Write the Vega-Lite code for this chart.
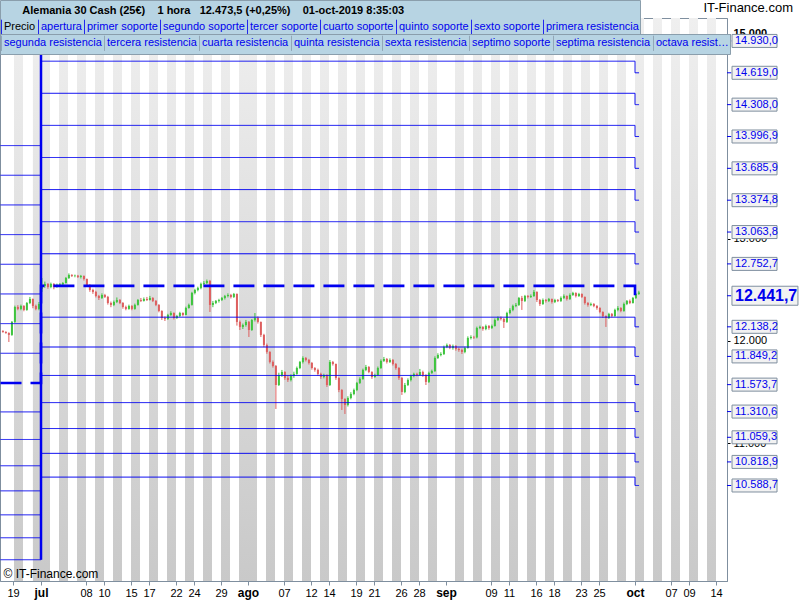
{
"$schema": "https://vega.github.io/schema/vega-lite/v6.json",
"width": 727, "height": 563,
"autosize": "none",
"padding": {"left": 0, "top": 18, "right": 73, "bottom": 19},
"background": "white",
"config": {
  "locale": {"number": {"decimal": ",", "thousands": ".", "grouping": [3], "currency": ["", " €"]}},
  "font": "Liberation Sans",
  "view": {"stroke": "#7f8f9f", "fill": "white"},
  "axis": {"labelOverlap": false}
},
"title": {"text": "IT-Finance.com", "anchor": "end", "frame": "group", "offset": 0, "dy": 15, "dx": 66, "fontSize": 13, "fontWeight": "normal", "color": "#000000", "font": "Liberation Sans"},
"resolve": {"axis": {"x": "independent"}},
"datasets": {
"stripes": [{"d":-3,"e":-2},{"d":-0.9,"e":0},{"d":0,"e":1},{"d":2,"e":3},{"d":4,"e":5},{"d":6,"e":7},{"d":8,"e":9},{"d":10,"e":11},{"d":12,"e":13},{"d":14,"e":15},{"d":16,"e":17},{"d":18,"e":19},{"d":20,"e":21},{"d":22,"e":23},{"d":23,"e":24},{"d":25,"e":26},{"d":27,"e":28},{"d":29,"e":30},{"d":31,"e":32},{"d":33,"e":34},{"d":35,"e":36},{"d":37,"e":38},{"d":39,"e":40},{"d":41,"e":42},{"d":43,"e":44},{"d":46,"e":47},{"d":48,"e":49},{"d":50,"e":51},{"d":52,"e":53},{"d":54,"e":55},{"d":56,"e":57},{"d":58,"e":59},{"d":60,"e":61},{"d":62,"e":63},{"d":64,"e":65},{"d":66,"e":67},{"d":68,"e":69},{"d":70,"e":71},{"d":72,"e":73},{"d":74,"e":75}],
"levels": [
{"name":"apertura","t":-4.5,"v":11590},{"name":"apertura","t":0,"v":12538},{"name":"apertura","t":66,"v":12441.7},{"name":"apertura","t":66.45,"v":12441.7},
{"name":"primer soporte","t":-4.5,"v":11307.3},{"name":"primer soporte","t":0,"v":12232.2},{"name":"primer soporte","t":66,"v":12138.2},{"name":"primer soporte","t":66.45,"v":12138.2},
{"name":"segundo soporte","t":-4.5,"v":11038.1},{"name":"segundo soporte","t":0,"v":11941.0},{"name":"segundo soporte","t":66,"v":11849.2},{"name":"segundo soporte","t":66.45,"v":11849.2},
{"name":"tercer soporte","t":-4.5,"v":10781.4},{"name":"tercer soporte","t":0,"v":11663.3},{"name":"tercer soporte","t":66,"v":11573.7},{"name":"tercer soporte","t":66.45,"v":11573.7},
{"name":"cuarto soporte","t":-4.5,"v":10536.4},{"name":"cuarto soporte","t":0,"v":11398.2},{"name":"cuarto soporte","t":66,"v":11310.6},{"name":"cuarto soporte","t":66.45,"v":11310.6},
{"name":"quinto soporte","t":-4.5,"v":10302.2},{"name":"quinto soporte","t":0,"v":11144.9},{"name":"quinto soporte","t":66,"v":11059.3},{"name":"quinto soporte","t":66.45,"v":11059.3},
{"name":"sexto soporte","t":-4.5,"v":10078.3},{"name":"sexto soporte","t":0,"v":10902.6},{"name":"sexto soporte","t":66,"v":10818.9},{"name":"sexto soporte","t":66.45,"v":10818.9},
{"name":"septimo soporte","t":-4.5,"v":9863.8},{"name":"septimo soporte","t":0,"v":10670.6},{"name":"septimo soporte","t":66,"v":10588.7},{"name":"septimo soporte","t":66.45,"v":10588.7},
{"name":"primera resistencia","t":-4.5,"v":11879.8},{"name":"primera resistencia","t":0,"v":12851.5},{"name":"primera resistencia","t":66,"v":12752.7},{"name":"primera resistencia","t":66.45,"v":12752.7},
{"name":"segunda resistencia","t":-4.5,"v":12169.5},{"name":"segunda resistencia","t":0,"v":13164.9},{"name":"segunda resistencia","t":66,"v":13063.8},{"name":"segunda resistencia","t":66.45,"v":13063.8},
{"name":"tercera resistencia","t":-4.5,"v":12459.3},{"name":"tercera resistencia","t":0,"v":13478.4},{"name":"tercera resistencia","t":66,"v":13374.8},{"name":"tercera resistencia","t":66.45,"v":13374.8},
{"name":"cuarta resistencia","t":-4.5,"v":12749.0},{"name":"cuarta resistencia","t":0,"v":13791.8},{"name":"cuarta resistencia","t":66,"v":13685.9},{"name":"cuarta resistencia","t":66.45,"v":13685.9},
{"name":"quinta resistencia","t":-4.5,"v":13038.8},{"name":"quinta resistencia","t":0,"v":14105.3},{"name":"quinta resistencia","t":66,"v":13996.9},{"name":"quinta resistencia","t":66.45,"v":13996.9},
{"name":"sexta resistencia","t":-4.5,"v":13328.5},{"name":"sexta resistencia","t":0,"v":14418.7},{"name":"sexta resistencia","t":66,"v":14308.0},{"name":"sexta resistencia","t":66.45,"v":14308.0},
{"name":"septima resistencia","t":-4.5,"v":13618.3},{"name":"septima resistencia","t":0,"v":14732.2},{"name":"septima resistencia","t":66,"v":14619.0},{"name":"septima resistencia","t":66.45,"v":14619.0},
{"name":"octava resistencia","t":-4.5,"v":13908.0},{"name":"octava resistencia","t":0,"v":15045.6},{"name":"octava resistencia","t":66,"v":14930.0},{"name":"octava resistencia","t":66.45,"v":14930.0}
],
"candles": [
{"t":-4.23,"o":12098,"h":12105,"l":12080,"c":12088},{"t":-3.9,"o":12088,"h":12095,"l":12070,"c":12078},{"t":-3.57,"o":12078,"h":12085,"l":11990,"c":12059},{"t":-3.23,"o":12059,"h":12195,"l":12050,"c":12186},{"t":-2.9,"o":12186,"h":12345,"l":12176,"c":12332},{"t":-2.57,"o":12332,"h":12350,"l":12300,"c":12313},{"t":-2.23,"o":12313,"h":12355,"l":12300,"c":12342},{"t":-1.9,"o":12342,"h":12350,"l":12290,"c":12303},{"t":-1.57,"o":12303,"h":12380,"l":12295,"c":12371},{"t":-1.23,"o":12371,"h":12430,"l":12360,"c":12410},{"t":-0.9,"o":12410,"h":12415,"l":12320,"c":12342},{"t":-0.57,"o":12342,"h":12355,"l":12300,"c":12313},{"t":-0.23,"o":12313,"h":12380,"l":12300,"c":12361},
{"t":0.1,"o":12508,"h":12615,"l":12479,"c":12537},{"t":0.43,"o":12537,"h":12580,"l":12520,"c":12557},{"t":0.77,"o":12557,"h":12565,"l":12510,"c":12527},{"t":1.1,"o":12527,"h":12570,"l":12515,"c":12557},{"t":1.43,"o":12557,"h":12565,"l":12505,"c":12527},{"t":1.77,"o":12527,"h":12560,"l":12520,"c":12547},{"t":2.1,"o":12547,"h":12565,"l":12535,"c":12552},{"t":2.43,"o":12552,"h":12575,"l":12540,"c":12566},{"t":2.77,"o":12566,"h":12625,"l":12560,"c":12615},{"t":3.1,"o":12615,"h":12660,"l":12605,"c":12645},{"t":3.43,"o":12645,"h":12652,"l":12625,"c":12635},{"t":3.77,"o":12635,"h":12648,"l":12622,"c":12638},
{"t":4.1,"o":12638,"h":12645,"l":12615,"c":12625},{"t":4.43,"o":12625,"h":12645,"l":12610,"c":12635},{"t":4.77,"o":12635,"h":12640,"l":12590,"c":12605},{"t":5.1,"o":12605,"h":12610,"l":12530,"c":12547},{"t":5.43,"o":12547,"h":12555,"l":12480,"c":12498},{"t":5.77,"o":12498,"h":12510,"l":12460,"c":12479},{"t":6.1,"o":12479,"h":12490,"l":12425,"c":12439},{"t":6.43,"o":12439,"h":12450,"l":12400,"c":12420},{"t":6.77,"o":12420,"h":12465,"l":12410,"c":12449},{"t":7.1,"o":12449,"h":12460,"l":12420,"c":12430},{"t":7.43,"o":12430,"h":12440,"l":12355,"c":12371},{"t":7.77,"o":12371,"h":12385,"l":12330,"c":12352},
{"t":8.1,"o":12352,"h":12395,"l":12340,"c":12381},{"t":8.43,"o":12381,"h":12425,"l":12370,"c":12400},{"t":8.77,"o":12400,"h":12410,"l":12360,"c":12371},{"t":9.1,"o":12371,"h":12380,"l":12315,"c":12332},{"t":9.43,"o":12332,"h":12345,"l":12300,"c":12313},{"t":9.77,"o":12313,"h":12355,"l":12305,"c":12342},{"t":10.1,"o":12342,"h":12350,"l":12300,"c":12313},{"t":10.43,"o":12313,"h":12365,"l":12305,"c":12352},{"t":10.77,"o":12352,"h":12410,"l":12345,"c":12400},{"t":11.1,"o":12400,"h":12420,"l":12380,"c":12391},{"t":11.43,"o":12391,"h":12425,"l":12385,"c":12410},{"t":11.77,"o":12410,"h":12430,"l":12390,"c":12400},
{"t":12.1,"o":12400,"h":12440,"l":12395,"c":12420},{"t":12.43,"o":12420,"h":12428,"l":12380,"c":12391},{"t":12.77,"o":12391,"h":12400,"l":12340,"c":12352},{"t":13.1,"o":12352,"h":12360,"l":12280,"c":12293},{"t":13.43,"o":12293,"h":12300,"l":12205,"c":12225},{"t":13.77,"o":12225,"h":12240,"l":12195,"c":12215},{"t":14.1,"o":12215,"h":12265,"l":12205,"c":12254},{"t":14.43,"o":12254,"h":12290,"l":12245,"c":12273},{"t":14.77,"o":12273,"h":12280,"l":12210,"c":12225},{"t":15.1,"o":12225,"h":12255,"l":12215,"c":12244},{"t":15.43,"o":12244,"h":12285,"l":12235,"c":12273},{"t":15.77,"o":12273,"h":12280,"l":12240,"c":12254},
{"t":16.1,"o":12254,"h":12335,"l":12250,"c":12322},{"t":16.43,"o":12322,"h":12365,"l":12315,"c":12352},{"t":16.77,"o":12352,"h":12480,"l":12345,"c":12469},{"t":17.1,"o":12469,"h":12510,"l":12455,"c":12498},{"t":17.43,"o":12498,"h":12530,"l":12485,"c":12518},{"t":17.77,"o":12518,"h":12570,"l":12505,"c":12557},{"t":18.1,"o":12557,"h":12585,"l":12545,"c":12566},{"t":18.43,"o":12566,"h":12600,"l":12555,"c":12586},{"t":18.77,"o":12586,"h":12596,"l":12283,"c":12352},{"t":19.1,"o":12352,"h":12390,"l":12330,"c":12371},{"t":19.43,"o":12371,"h":12400,"l":12360,"c":12391},{"t":19.77,"o":12391,"h":12412,"l":12375,"c":12400},
{"t":20.1,"o":12400,"h":12430,"l":12390,"c":12420},{"t":20.43,"o":12420,"h":12450,"l":12405,"c":12439},{"t":20.77,"o":12439,"h":12465,"l":12425,"c":12449},{"t":21.1,"o":12449,"h":12460,"l":12415,"c":12430},{"t":21.43,"o":12430,"h":12469,"l":12420,"c":12459},{"t":21.77,"o":12459,"h":12465,"l":12150,"c":12186},{"t":22.1,"o":12186,"h":12200,"l":12107,"c":12137},{"t":22.43,"o":12137,"h":12170,"l":12117,"c":12156},{"t":22.77,"o":12156,"h":12205,"l":12140,"c":12186},{"t":23.1,"o":12186,"h":12195,"l":12039,"c":12107},{"t":23.43,"o":12107,"h":12215,"l":12098,"c":12205},{"t":23.77,"o":12205,"h":12273,"l":12190,"c":12225},
{"t":24.1,"o":12225,"h":12240,"l":12170,"c":12186},{"t":24.43,"o":12186,"h":12190,"l":12039,"c":12059},{"t":24.77,"o":12059,"h":12070,"l":11940,"c":11961},{"t":25.1,"o":11961,"h":11975,"l":11875,"c":11893},{"t":25.43,"o":11893,"h":11900,"l":11780,"c":11795},{"t":25.77,"o":11795,"h":11810,"l":11740,"c":11756},{"t":26.1,"o":11756,"h":11765,"l":11336,"c":11570},{"t":26.43,"o":11570,"h":11690,"l":11560,"c":11668},{"t":26.77,"o":11668,"h":11717,"l":11650,"c":11697},{"t":27.1,"o":11697,"h":11705,"l":11620,"c":11639},{"t":27.43,"o":11639,"h":11660,"l":11600,"c":11619},{"t":27.77,"o":11619,"h":11675,"l":11605,"c":11658},
{"t":28.1,"o":11658,"h":11700,"l":11640,"c":11678},{"t":28.43,"o":11678,"h":11750,"l":11670,"c":11736},{"t":28.77,"o":11736,"h":11805,"l":11725,"c":11795},{"t":29.1,"o":11795,"h":11850,"l":11780,"c":11834},{"t":29.43,"o":11834,"h":11844,"l":11800,"c":11814},{"t":29.77,"o":11814,"h":11825,"l":11770,"c":11785},{"t":30.1,"o":11785,"h":11795,"l":11720,"c":11736},{"t":30.43,"o":11736,"h":11745,"l":11700,"c":11717},{"t":30.77,"o":11717,"h":11730,"l":11660,"c":11678},{"t":31.1,"o":11678,"h":11690,"l":11630,"c":11648},{"t":31.43,"o":11648,"h":11680,"l":11635,"c":11668},{"t":31.77,"o":11668,"h":11675,"l":11551,"c":11570},
{"t":32.1,"o":11570,"h":11814,"l":11560,"c":11795},{"t":32.43,"o":11795,"h":11805,"l":11760,"c":11775},{"t":32.77,"o":11775,"h":11780,"l":11620,"c":11639},{"t":33.1,"o":11639,"h":11645,"l":11500,"c":11521},{"t":33.43,"o":11521,"h":11530,"l":11326,"c":11434},{"t":33.77,"o":11434,"h":11440,"l":11287,"c":11375},{"t":34.1,"o":11375,"h":11460,"l":11360,"c":11443},{"t":34.43,"o":11443,"h":11500,"l":11430,"c":11482},{"t":34.77,"o":11482,"h":11535,"l":11470,"c":11521},{"t":35.1,"o":11521,"h":11600,"l":11510,"c":11590},{"t":35.43,"o":11590,"h":11645,"l":11580,"c":11629},{"t":35.77,"o":11629,"h":11730,"l":11620,"c":11717},
{"t":36.1,"o":11717,"h":11766,"l":11705,"c":11746},{"t":36.43,"o":11746,"h":11755,"l":11685,"c":11697},{"t":36.77,"o":11697,"h":11705,"l":11630,"c":11648},{"t":37.1,"o":11648,"h":11680,"l":11640,"c":11668},{"t":37.43,"o":11668,"h":11750,"l":11660,"c":11736},{"t":37.77,"o":11736,"h":11820,"l":11727,"c":11805},{"t":38.1,"o":11805,"h":11844,"l":11795,"c":11824},{"t":38.43,"o":11824,"h":11834,"l":11780,"c":11795},{"t":38.77,"o":11795,"h":11830,"l":11785,"c":11814},{"t":39.1,"o":11814,"h":11824,"l":11760,"c":11775},{"t":39.43,"o":11775,"h":11785,"l":11720,"c":11736},{"t":39.77,"o":11736,"h":11745,"l":11620,"c":11639},
{"t":40.1,"o":11639,"h":11650,"l":11473,"c":11502},{"t":40.43,"o":11502,"h":11590,"l":11490,"c":11570},{"t":40.77,"o":11570,"h":11635,"l":11560,"c":11619},{"t":41.1,"o":11619,"h":11670,"l":11605,"c":11658},{"t":41.43,"o":11658,"h":11690,"l":11645,"c":11678},{"t":41.77,"o":11678,"h":11690,"l":11655,"c":11668},{"t":42.1,"o":11668,"h":11727,"l":11660,"c":11697},{"t":42.43,"o":11697,"h":11710,"l":11650,"c":11668},{"t":42.77,"o":11668,"h":11675,"l":11570,"c":11600},{"t":43.1,"o":11600,"h":11700,"l":11590,"c":11688},{"t":43.43,"o":11688,"h":11720,"l":11678,"c":11707},{"t":43.77,"o":11707,"h":11850,"l":11697,"c":11834},
{"t":44.1,"o":11834,"h":11880,"l":11824,"c":11863},{"t":44.43,"o":11863,"h":11890,"l":11850,"c":11873},{"t":44.77,"o":11873,"h":11955,"l":11863,"c":11941},{"t":45.1,"o":11941,"h":11975,"l":11930,"c":11961},{"t":45.43,"o":11961,"h":11970,"l":11920,"c":11932},{"t":45.77,"o":11932,"h":11965,"l":11915,"c":11951},{"t":46.1,"o":11951,"h":11960,"l":11905,"c":11922},{"t":46.43,"o":11922,"h":11935,"l":11895,"c":11912},{"t":46.77,"o":11912,"h":11925,"l":11873,"c":11893},{"t":47.1,"o":11893,"h":11945,"l":11880,"c":11932},{"t":47.43,"o":11932,"h":12045,"l":11925,"c":12029},{"t":47.77,"o":12029,"h":12055,"l":12015,"c":12039},
{"t":48.1,"o":12039,"h":12050,"l":12020,"c":12035},{"t":48.43,"o":12035,"h":12140,"l":12025,"c":12127},{"t":48.77,"o":12127,"h":12150,"l":12115,"c":12137},{"t":49.1,"o":12137,"h":12145,"l":12100,"c":12117},{"t":49.43,"o":12117,"h":12160,"l":12105,"c":12146},{"t":49.77,"o":12146,"h":12156,"l":12110,"c":12127},{"t":50.1,"o":12127,"h":12160,"l":12117,"c":12146},{"t":50.43,"o":12146,"h":12220,"l":12140,"c":12205},{"t":50.77,"o":12205,"h":12240,"l":12195,"c":12225},{"t":51.1,"o":12225,"h":12240,"l":12200,"c":12215},{"t":51.43,"o":12215,"h":12225,"l":12127,"c":12186},{"t":51.77,"o":12186,"h":12285,"l":12176,"c":12273},
{"t":52.1,"o":12273,"h":12320,"l":12260,"c":12303},{"t":52.43,"o":12303,"h":12355,"l":12290,"c":12342},{"t":52.77,"o":12342,"h":12371,"l":12330,"c":12352},{"t":53.1,"o":12352,"h":12430,"l":12342,"c":12420},{"t":53.43,"o":12420,"h":12440,"l":12303,"c":12391},{"t":53.77,"o":12391,"h":12450,"l":12380,"c":12439},{"t":54.1,"o":12439,"h":12449,"l":12415,"c":12430},{"t":54.43,"o":12430,"h":12455,"l":12420,"c":12439},{"t":54.77,"o":12439,"h":12498,"l":12430,"c":12479},{"t":55.1,"o":12479,"h":12485,"l":12380,"c":12400},{"t":55.43,"o":12400,"h":12410,"l":12342,"c":12361},{"t":55.77,"o":12361,"h":12415,"l":12352,"c":12400},
{"t":56.1,"o":12400,"h":12410,"l":12375,"c":12391},{"t":56.43,"o":12391,"h":12420,"l":12380,"c":12410},{"t":56.77,"o":12410,"h":12415,"l":12365,"c":12381},{"t":57.1,"o":12381,"h":12412,"l":12370,"c":12400},{"t":57.43,"o":12400,"h":12410,"l":12380,"c":12391},{"t":57.77,"o":12391,"h":12435,"l":12380,"c":12420},{"t":58.1,"o":12420,"h":12455,"l":12410,"c":12439},{"t":58.43,"o":12439,"h":12445,"l":12395,"c":12410},{"t":58.77,"o":12410,"h":12465,"l":12400,"c":12449},{"t":59.1,"o":12449,"h":12480,"l":12440,"c":12469},{"t":59.43,"o":12469,"h":12475,"l":12425,"c":12439},{"t":59.77,"o":12439,"h":12470,"l":12430,"c":12459},
{"t":60.1,"o":12459,"h":12465,"l":12420,"c":12430},{"t":60.43,"o":12430,"h":12435,"l":12355,"c":12371},{"t":60.77,"o":12371,"h":12380,"l":12335,"c":12352},{"t":61.1,"o":12352,"h":12375,"l":12340,"c":12361},{"t":61.43,"o":12361,"h":12370,"l":12330,"c":12342},{"t":61.77,"o":12342,"h":12350,"l":12305,"c":12322},{"t":62.1,"o":12322,"h":12330,"l":12270,"c":12283},{"t":62.43,"o":12283,"h":12290,"l":12225,"c":12244},{"t":62.77,"o":12244,"h":12250,"l":12137,"c":12225},{"t":63.1,"o":12225,"h":12275,"l":12215,"c":12264},{"t":63.43,"o":12264,"h":12273,"l":12230,"c":12244},{"t":63.77,"o":12244,"h":12315,"l":12235,"c":12303},
{"t":64.1,"o":12303,"h":12340,"l":12290,"c":12322},{"t":64.43,"o":12322,"h":12330,"l":12280,"c":12293},{"t":64.77,"o":12293,"h":12375,"l":12285,"c":12361},{"t":65.1,"o":12361,"h":12400,"l":12350,"c":12391},{"t":65.43,"o":12391,"h":12405,"l":12360,"c":12371},{"t":65.77,"o":12371,"h":12430,"l":12365,"c":12420},{"t":66.1,"o":12420,"h":12470,"l":12410,"c":12459},{"t":66.43,"o":12459,"h":12490,"l":12450,"c":12473.5}
]
},
"layer": [
{
  "data": {"name": "stripes"},
  "mark": {"type": "rect", "color": {"gradient": "linear", "x1": 0, "y1": 0, "x2": 0, "y2": 1, "stops": [{"offset": 0, "color": "#efefef"}, {"offset": 1, "color": "#c9c9c9"}]}},
  "encoding": {
    "x": {"field": "d", "type": "quantitative", "scale": {"domain": [-4.556, 76.222], "nice": false, "zero": false},
      "axis": {
        "orient": "bottom",
        "values": [-3.1, 5, 10, 15, 20, 27, 32, 37, 42, 50, 55, 60, 66, 72],
        "labelExpr": "['19','08','15','22','29','07','14','21','28','09','16','23','oct','09'][indexof([-3.1,5,10,15,20,27,32,37,42,50,55,60,66,72], datum.value)]",
        "labelFontWeight": {"condition": {"test": "datum.value === 66", "value": "bold"}, "value": "normal"},
        "labelFontSize": {"condition": {"test": "datum.value === 66", "value": 12}, "value": 11},
        "labelColor": "#000000", "labelFont": "Liberation Sans", "labelPadding": 2, "labelOverlap": false, "labelFlush": false,
        "tickSize": 4, "tickColor": "#7f8f9f", "domainColor": "#7f8f9f", "grid": false, "zindex": 1,
        "title": "© IT-Finance.com", "titleX": 3, "titleY": -8, "titleAlign": "left", "titleBaseline": "middle", "titleAnchor": null,
        "titleFontSize": 12, "titleFontWeight": "normal", "titleColor": "#000000", "titleFont": "Liberation Sans"
      }},
    "x2": {"field": "e"}
  }
},
{
  "data": {"name": "candles"},
  "mark": {"type": "rule", "strokeWidth": 1},
  "encoding": {
    "x": {"field": "t", "type": "quantitative", "scale": {"domain": [-4.556, 76.222], "nice": false, "zero": false},
      "axis": {
        "orient": "bottom",
        "values": [0, 7, 12, 17, 23, 30, 35, 40, 45, 52, 57, 62, 70, 75],
        "labelExpr": "['jul','10','17','24','ago','12','19','26','sep','11','18','25','07','14'][indexof([0,7,12,17,23,30,35,40,45,52,57,62,70,75], datum.value)]",
        "labelFontWeight": {"condition": {"test": "datum.value === 0 || datum.value === 23 || datum.value === 45", "value": "bold"}, "value": "normal"},
        "labelFontSize": {"condition": {"test": "datum.value === 0 || datum.value === 23 || datum.value === 45", "value": 12}, "value": 11},
        "labelColor": "#000000", "labelFont": "Liberation Sans", "labelPadding": 2, "labelOverlap": false, "labelFlush": false,
        "tickSize": 4, "tickColor": "#7f8f9f", "domain": false, "grid": false, "zindex": 1, "title": null
      }},
    "y": {"field": "l", "type": "quantitative", "scale": {"domain": [9656, 15154], "nice": false, "zero": false}},
    "y2": {"field": "h"},
    "color": {"condition": {"test": "datum.c >= datum.o", "value": "#3ec43e"}, "value": "#dd5f5f"}
  }
},
{
  "data": {"name": "candles"},
  "mark": {"type": "rule", "strokeWidth": 2},
  "encoding": {
    "x": {"field": "t", "type": "quantitative", "scale": {"domain": [-4.556, 76.222], "nice": false, "zero": false}, "axis": null},
    "y": {"field": "o", "type": "quantitative", "scale": {"domain": [9656, 15154], "nice": false, "zero": false}},
    "y2": {"field": "c"},
    "color": {"condition": {"test": "datum.c >= datum.o", "value": "#3ec43e"}, "value": "#dd5f5f"}
  }
},
{
  "data": {"name": "levels"},
  "transform": [{"filter": "datum.t <= 0"}],
  "mark": {"type": "rule", "color": "#0000f0", "strokeWidth": 2.5},
  "encoding": {
    "x": {"datum": 0, "type": "quantitative", "scale": {"domain": [-4.556, 76.222], "nice": false, "zero": false}, "axis": null},
    "y": {"aggregate": "min", "field": "v", "type": "quantitative", "scale": {"domain": [9656, 15154], "nice": false, "zero": false}},
    "y2": {"aggregate": "max", "field": "v"}
  }
},
{
  "data": {"name": "levels"},
  "mark": {"type": "line", "interpolate": "step-after"},
  "encoding": {
    "x": {"field": "t", "type": "quantitative", "scale": {"domain": [-4.556, 76.222], "nice": false, "zero": false}, "axis": null},
    "y": {"field": "v", "type": "quantitative", "scale": {"domain": [9656, 15154], "nice": false, "zero": false},
      "axis": {"orient": "right", "values": [11000, 12000, 13000, 15000], "format": ",d", "labelFontSize": 11, "labelFont": "Liberation Sans", "labelColor": "#000000",
        "labelFontWeight": {"condition": {"test": "datum.value === 15000", "value": "bold"}, "value": "normal"},
        "labelPadding": 3, "tickSize": 3, "tickColor": "#000000", "domainColor": "#7f8f9f", "grid": false, "title": null}},
    "order": {"field": "t"},
    "strokeWidth": {"condition": {"test": "datum.name === 'apertura'", "value": 2.6}, "value": 1},
    "strokeDash": {"condition": {"test": "datum.name === 'apertura'", "value": [21, 9]}, "value": [1, 0]},
    "stroke": {"field": "name", "type": "nominal",
      "scale": {"domain": ["Precio","apertura","primer soporte","segundo soporte","tercer soporte","cuarto soporte","quinto soporte","sexto soporte","primera resistencia","segunda resistencia","tercera resistencia","cuarta resistencia","quinta resistencia","sexta resistencia","septimo soporte","septima resistencia","octava resistencia"],
        "range": ["#0000f0","#0000f0","#0000f0","#0000f0","#0000f0","#0000f0","#0000f0","#0000f0","#0000f0","#0000f0","#0000f0","#0000f0","#0000f0","#0000f0","#0000f0","#0000f0","#0000f0"]},
      "legend": {
        "orient": "none", "legendX": 0, "legendY": -18, "direction": "horizontal", "columns": 9,
        "values": ["Precio","apertura","primer soporte","segundo soporte","tercer soporte","cuarto soporte","quinto soporte","sexto soporte","primera resistencia"],
        "title": "\u200b\u00a0\u00a0\u00a0\u00a0\u00a0\u00a0Alemania 30 Cash (25€)\u00a0\u00a0\u00a0\u00a01 hora\u00a0\u00a0\u00a012.473,5 (+0,25%)\u00a0\u00a0\u00a0\u00a001-oct-2019 8:35:03",
        "titleFont": "Liberation Sans", "titleFontSize": 11, "titleFontWeight": "bold", "titleColor": "#000000", "titlePadding": 7, "titleLimit": 720, "titleAnchor": "start",
        "labelFont": "Liberation Sans", "labelFontSize": 11, "labelColor": "#0000ee", "labelOffset": -13, "labelLimit": 200,
        "symbolType": "M-1,-1L-1,1", "symbolSize": 225, "symbolStrokeWidth": 1, "symbolStrokeColor": "#8a9eac", "symbolFillColor": "transparent", "symbolOpacity": 1,
        "columnPadding": 0, "rowPadding": 0,
        "fillColor": "#b7d4e3", "strokeColor": "#8a9eac", "padding": 1, "zindex": 1,
        "encode": {
          "title": {"update": {"dy": {"value": 4}, "dx": {"value": 3}}},
          "labels": {"update": {"fill": {"signal": "datum.label === 'Precio' ? '#000000' : '#0000ee'"}}},
          "symbols": {"update": {"stroke": {"value": "#8a9eac"}, "strokeDash": {"value": [1, 0]}, "strokeWidth": {"value": 1}, "opacity": {"value": 1}}}
        }
      }},
    "opacity": {"field": "name", "type": "nominal",
      "scale": {"type": "ordinal", "domain": ["segunda resistencia","tercera resistencia","cuarta resistencia","quinta resistencia","sexta resistencia","septimo soporte","septima resistencia","octava resistencia"], "range": [1,1,1,1,1,1,1,1]},
      "legend": {
        "orient": "none", "legendX": 0, "legendY": 16, "direction": "horizontal", "columns": 8, "title": null,
        "labelFont": "Liberation Sans", "labelFontSize": 11, "labelColor": "#0000ee", "labelOffset": -13, "labelLimit": 200,
        "symbolType": "M-1,-1L-1,1", "symbolSize": 225, "symbolStrokeWidth": 1, "symbolStrokeColor": "#8a9eac", "symbolFillColor": "transparent", "symbolOpacity": 1,
        "columnPadding": 0, "rowPadding": 0,
        "fillColor": "#b7d4e3", "strokeColor": "#8a9eac", "padding": 1, "zindex": 1,
        "encode": {
          "labels": {"update": {"fill": {"value": "#0000ee"}, "limit": {"signal": "datum.label === 'octava resistencia' ? 76 : 200"}}},
          "symbols": {"update": {"stroke": {"value": "#8a9eac"}, "strokeDash": {"value": [1, 0]}, "strokeWidth": {"value": 1}, "opacity": {"value": 1}, "fill": {"value": "transparent"}}}
        }
      }}
  }
},
{
  "data": {"name": "levels"},
  "transform": [{"filter": "datum.t === 66.45"}],
  "mark": {"type": "rule", "color": "#0000ee", "strokeWidth": 1},
  "encoding": {
    "x": {"datum": 76.222, "type": "quantitative", "scale": {"domain": [-4.556, 76.222], "nice": false, "zero": false}, "axis": null},
    "x2": {"datum": 76.7},
    "y": {"field": "v", "type": "quantitative", "scale": {"domain": [9656, 15154], "nice": false, "zero": false}}
  }
},
{
  "data": {"name": "levels"},
  "transform": [{"filter": "datum.t === 66.45 && datum.name !== 'apertura'"}],
  "mark": {"type": "point", "shape": "M-1,-0.289H1V0.289H-1Z", "size": 2025, "filled": true, "fill": "#f2f2f2", "stroke": "#7f8f9f", "strokeWidth": 1, "opacity": 1},
  "encoding": {
    "x": {"datum": 79.28, "type": "quantitative", "scale": {"domain": [-4.556, 76.222], "nice": false, "zero": false}, "axis": null},
    "y": {"field": "v", "type": "quantitative", "scale": {"domain": [9656, 15154], "nice": false, "zero": false}}
  }
},
{
  "data": {"name": "levels"},
  "transform": [{"filter": "datum.t === 66.45 && datum.name === 'apertura'"}],
  "mark": {"type": "point", "shape": "M-1,-0.288H1V0.288H-1Z", "size": 4356, "filled": true, "fill": "#f2f2f2", "stroke": "#7f8f9f", "strokeWidth": 1, "opacity": 1},
  "encoding": {
    "x": {"datum": 80.44, "type": "quantitative", "scale": {"domain": [-4.556, 76.222], "nice": false, "zero": false}, "axis": null},
    "y": {"field": "v", "type": "quantitative", "scale": {"domain": [9656, 15154], "nice": false, "zero": false}}
  }
},
{
  "data": {"name": "levels"},
  "transform": [{"filter": "datum.t === 66.45 && datum.name !== 'apertura'"}],
  "mark": {"type": "text", "align": "left", "baseline": "middle", "fontSize": 11, "font": "Liberation Sans", "color": "#0000ee"},
  "encoding": {
    "x": {"datum": 77.11, "type": "quantitative", "scale": {"domain": [-4.556, 76.222], "nice": false, "zero": false}, "axis": null},
    "y": {"field": "v", "type": "quantitative", "scale": {"domain": [9656, 15154], "nice": false, "zero": false}},
    "text": {"field": "v", "type": "quantitative", "format": ",.1f"}
  }
},
{
  "data": {"name": "levels"},
  "transform": [{"filter": "datum.t === 66.45 && datum.name === 'apertura'"}],
  "mark": {"type": "text", "align": "left", "baseline": "middle", "fontSize": 16, "fontWeight": "bold", "font": "Liberation Sans", "color": "#0000ee"},
  "encoding": {
    "x": {"datum": 77.11, "type": "quantitative", "scale": {"domain": [-4.556, 76.222], "nice": false, "zero": false}, "axis": null},
    "y": {"field": "v", "type": "quantitative", "scale": {"domain": [9656, 15154], "nice": false, "zero": false}},
    "text": {"field": "v", "type": "quantitative", "format": ",.1f"}
  }
}
]
}
